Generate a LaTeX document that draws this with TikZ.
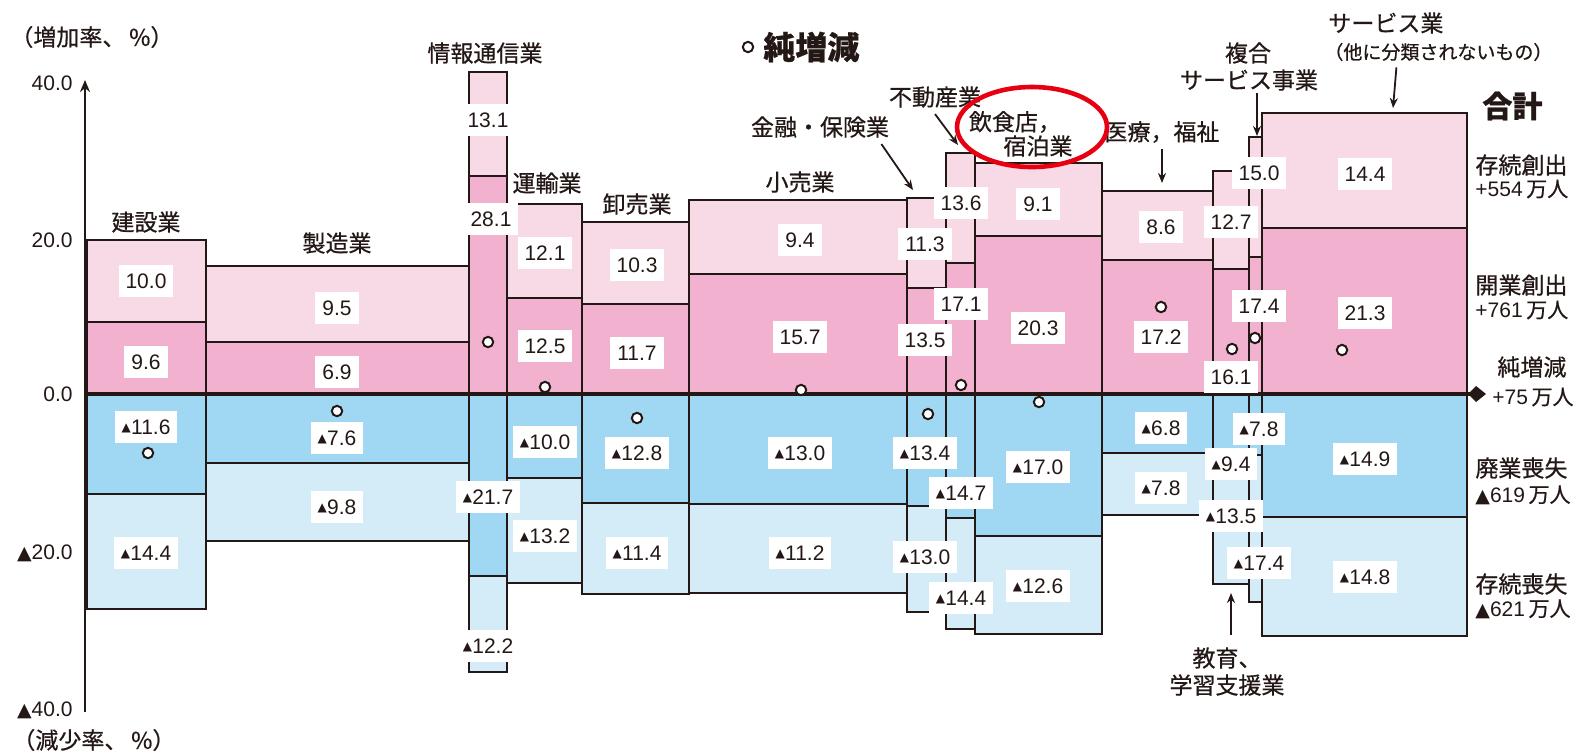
\documentclass[tikz,border=0pt]{standalone}
\usepackage{fontspec}
\setmainfont{Liberation Sans}
\newfontfamily\jp[FakeBold=0.6]{Noto Sans CJK JP}
\newfontfamily\sym{DejaVu Sans}
\usetikzlibrary{arrows.meta}
\definecolor{lpink}{HTML}{F8D9E6}
\definecolor{dpink}{HTML}{F2B1CE}
\definecolor{dblue}{HTML}{A0D7F2}
\definecolor{lblue}{HTML}{D4EBF8}
\definecolor{ink}{HTML}{231815}
\definecolor{redring}{HTML}{E60012}
\newcommand\stri{\raisebox{0.25ex}{\sym\fontsize{6}{6}\selectfont ▲}\kern0.2pt}
\newcommand\btri{{\sym\fontsize{9.5}{9.5}\selectfont ▲}}
\newcommand\bcol[6]{%
  \fill[lpink] (#1,#3) rectangle (#2,#4);
  \fill[dpink] (#1,#4) rectangle (#2,394);
  \fill[dblue] (#1,394) rectangle (#2,#5);
  \fill[lblue] (#1,#5) rectangle (#2,#6);
  \draw[edge] (#1,#3) rectangle (#2,#6) (#1,#4) -- (#2,#4) (#1,#5) -- (#2,#5);
}
\newcommand\val[4]{\node[vbox] (#1) at (#2,#3) {#4};}
\newcommand\net[3]{\node[netc] (#1) at (#2,#3) {};}
\begin{document}
\begin{tikzpicture}[x=0.5pt,y=-0.5pt,
  edge/.style={draw=ink, line width=1.3pt},
  vbox/.style={fill=white, inner xsep=3.5pt, inner ysep=4.2pt, text height=7.6pt, text depth=0pt, font=\fontsize{10.5}{10.5}\selectfont, text=ink},
  netc/.style={circle, draw=ink, fill=white, line width=1pt, minimum size=5.2pt, inner sep=0pt},
  cat/.style={font=\jp\fontsize{11.5}{13}\selectfont, inner sep=0pt, text=ink},
  rlab/.style={font=\jp\fontsize{11.5}{13}\selectfont, inner sep=0pt, anchor=west, text=ink},
  rnum/.style={font=\fontsize{10.5}{12}\selectfont, inner sep=0pt, anchor=west, text=ink},
  alab/.style={font=\fontsize{10.5}{12}\selectfont, inner sep=0pt, anchor=east, text=ink},
  pointer/.style={draw=ink, line width=0.9pt, -{Stealth[length=5pt,width=4pt]}}]
\useasboundingbox (0,0) rectangle (1588,752);
\fill[white] (0,0) rectangle (1588,752);
% columns: xl, xr, top, pink boundary, blue boundary, bottom
\bcol{87}{206}{240}{322}{494}{609}
\bcol{206}{469}{266}{342}{463}{541}
\bcol{469}{507}{72}{176}{576}{672}
\bcol{507}{582}{204}{298}{478}{583}
\bcol{582}{689}{222}{304}{503}{594}
\bcol{689}{907}{200}{274}{504}{593}
\bcol{907}{946}{198}{288}{506}{612}
\bcol{946}{975}{153}{263}{518}{629}
\bcol{975}{1102}{163}{236}{536}{634}
\bcol{1102}{1213}{191}{260}{453}{515}
\bcol{1213}{1249}{171}{269}{467}{584}
\bcol{1249}{1262}{137}{257}{455}{602}
\bcol{1262}{1467}{113}{228}{517}{636}
% axes
\coordinate (ybot) at (85,712);
\coordinate (ytop) at (85,80);
\coordinate (xl) at (85,394);
\coordinate (xr) at (1486,394);
\draw[draw=ink, line width=1.3pt, -{Stealth[length=6pt,width=5pt]}] (ybot) -- (ytop);
\draw[draw=ink, line width=2pt, -{Kite[length=9pt,width=8pt,inset=4pt]}] (xl) -- (xr);
% value labels
\val{a1}{146}{281}{10.0}\val{a2}{146}{362}{9.6}\val{a3}{146}{427}{\stri 11.6}\val{a4}{146}{553}{\stri 14.4}
\val{b1}{337}{308}{9.5}\val{b2}{337}{372}{6.9}\val{b3}{337}{438}{\stri 7.6}\val{b4}{337}{507}{\stri 9.8}
\val{c1}{488}{120}{13.1}\val{c2}{491}{219}{28.1}\val{c3}{488}{497}{\stri 21.7}\val{c4}{488}{646}{\stri 12.2}
\val{d1}{545}{253}{12.1}\val{d2}{545}{346}{12.5}\val{d3}{545}{442}{\stri 10.0}\val{d4}{545}{536}{\stri 13.2}
\val{e1}{637}{265}{10.3}\val{e2}{637}{353}{11.7}\val{e3}{637}{453}{\stri 12.8}\val{e4}{637}{553}{\stri 11.4}
\val{f1}{800}{240}{9.4}\val{f2}{800}{337}{15.7}\val{f3}{800}{453}{\stri 13.0}\val{f4}{800}{553}{\stri 11.2}
\val{g1}{925}{244}{11.3}\val{g2}{925}{340}{13.5}\val{g3}{925}{453}{\stri 13.4}\val{g4}{925}{557}{\stri 13.0}
\val{h1}{961}{203}{13.6}\val{h2}{961}{304}{17.1}\val{h3}{961}{493}{\stri 14.7}\val{h4}{961}{598}{\stri 14.4}
\val{i1}{1038}{204}{9.1}\val{i2}{1038}{328}{20.3}\val{i3}{1038}{467}{\stri 17.0}\val{i4}{1038}{586}{\stri 12.6}
\val{j1}{1161}{227}{8.6}\val{j2}{1161}{337}{17.2}\val{j3}{1161}{428}{\stri 6.8}\val{j4}{1161}{488}{\stri 7.8}
\val{k1}{1231}{222}{12.7}\val{k2}{1231}{377}{16.1}\val{k3}{1231}{464}{\stri 9.4}\val{k4}{1231}{516}{\stri 13.5}
\val{m1}{1259}{173}{15.0}\val{m2}{1259}{306}{17.4}\val{m3}{1259}{429}{\stri 7.8}\val{m4}{1259}{563}{\stri 17.4}
\val{n1}{1365}{174}{14.4}\val{n2}{1365}{313}{21.3}\val{n3}{1365}{459}{\stri 14.9}\val{n4}{1365}{577}{\stri 14.8}
% net change circles
\net{na}{148}{453}\net{nb}{337}{411}\net{nc}{488}{342}\net{nd}{545}{387}\net{ne}{637}{418}
\net{nf}{801}{390}\net{ng}{928}{414}\net{nh}{961}{385}\net{ni}{1039}{402}\net{nj}{1161}{307}
\net{nk}{1232}{349}\net{nm}{1255}{338}\net{nn}{1342}{350}
% axis labels
\node[alab] (t40) at (73,83) {40.0};
\node[alab] (t20) at (73,240) {20.0};
\node[alab] (t0) at (73,394) {0.0};
\node[alab] (tm20) at (73,553) {\btri 20.0};
\node[alab] (tm40) at (73,710) {\btri 40.0};
\node[cat, anchor=west] (up) at (10,37) {（増加率、\,\%）};
\node[cat, anchor=west] (down) at (12,740) {（減少率、\,\%）};
% legend
\node[netc] (lg) at (748,47) {};
\node[cat, anchor=west, font=\jp\bfseries\fontsize{16}{18}\selectfont] (lgt) at (763,47) {純増減};
% category labels
\node[cat] (L1) at (146,222) {建設業};
\node[cat] (L2) at (337,243) {製造業};
\node[cat] (L3) at (485,53) {情報通信業};
\node[cat] (L4) at (547,183) {運輸業};
\node[cat] (L5) at (637,204) {卸売業};
\node[cat] (L6) at (800,182) {小売業};
\node[cat] (L7) at (820,127) {金融・保険業};
\node[cat] (L8) at (935,97) {不動産業};
\node[cat] (L9a) at (1015,122) {飲食店，};
\node[cat] (L9b) at (1038,146) {宿泊業};
\node[cat] (L10) at (1162,132) {医療，福祉};
\node[cat] (L11a) at (1227,658) {教育、};
\node[cat] (L11b) at (1227,685) {学習支援業};
\node[cat] (L12a) at (1248,53) {複合};
\node[cat] (L12b) at (1249,80) {サービス事業};
\node[cat, anchor=west] (L13a) at (1328,23) {サービス業};
\node[cat, anchor=west, font=\jp\fontsize{9.5}{11}\selectfont] (L13b) at (1324,52) {（他に分類されないもの）};
% pointers
\coordinate (p7) at (913,190);
\coordinate (p8) at (958,145);
\coordinate (p10) at (1162,183);
\coordinate (p11) at (1231,593);
\coordinate (p12) at (1257,136);
\coordinate (p13) at (1393,108);
\draw[pointer] (L7.south east) ++(-8,6) -- (p7);
\draw[pointer] (L8.south) ++(0,6) -- (p8);
\draw[pointer] (L10.south) ++(0,6) -- (p10);
\draw[pointer] (L11a.north) ++(4,-12) -- (p11);
\draw[pointer] (L12b.south) ++(8,2) -- (p12);
\draw[pointer] (L13b.south) ++(-42,6) -- (p13);
% red ring
\draw[redring, line width=2.3pt] (1032,127) ellipse [x radius=75, y radius=40];
% totals on the right
\node[cat, anchor=west, font=\jp\bfseries\fontsize{15}{17}\selectfont] (sum) at (1482,106) {合計};
\node[rlab] (r1) at (1475,165) {存続創出};
\node[rnum] (r1v) at (1475,189) {+554\,{\jp 万人}};
\node[rlab] (r2) at (1475,285) {開業創出};
\node[rnum] (r2v) at (1475,310) {+761\,{\jp 万人}};
\node[rlab] (r3) at (1497,367) {純増減};
\node[rnum] (r3v) at (1492,397) {+75\,{\jp 万人}};
\node[rlab] (r4) at (1475,468) {廃業喪失};
\node[rnum] (r4v) at (1475,495) {\btri 619\,{\jp 万人}};
\node[rlab] (r5) at (1475,584) {存続喪失};
\node[rnum] (r5v) at (1475,609) {\btri 621\,{\jp 万人}};
\end{tikzpicture}
\end{document}
